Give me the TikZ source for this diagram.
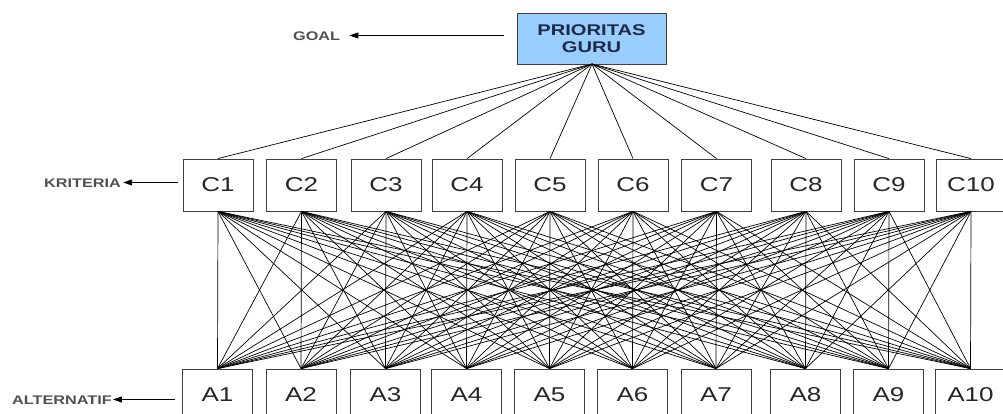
\documentclass[tikz,border=0pt]{standalone}
\usepackage{fontspec}
\usepackage{graphicx}
\setmainfont{Liberation Sans}
\newcommand{\wide}[1]{\scalebox{1.3}[1]{#1}}
\usetikzlibrary{arrows.meta}
\definecolor{goalblue}{HTML}{99CCFF}
\definecolor{goaltext}{HTML}{1F2A44}
\definecolor{lbl}{HTML}{505050}
\definecolor{boxline}{HTML}{404040}
\tikzset{
  box/.style={draw=boxline, line width=0.8pt, minimum width=70pt, minimum height=52pt, inner sep=0pt,
    font=\fontsize{20}{20}\selectfont, text=black!85},
  goalbox/.style={draw=boxline, line width=0.8pt, fill=goalblue, minimum width=149pt, minimum height=51pt,
    inner sep=0pt, align=center, font=\bfseries\fontsize{15.5}{17}\selectfont, text=goaltext},
  lbltext/.style={font=\bfseries\fontsize{12.5}{13}\selectfont, text=lbl, inner sep=0pt},
  link/.style={line width=0.7pt, black},
  pointer/.style={line width=0.8pt, black, -{Triangle[length=9pt,width=6pt]}}
}
\begin{document}
\begin{tikzpicture}[x=1pt,y=-1pt]
\useasboundingbox (0,0) rectangle (1003,414);
\node[goalbox] (g) at (591.5,38.5) {\wide{PRIORITAS}\\\wide{GURU}};
\coordinate (gb) at (592,64);
\foreach \i/\x in {1/218,2/301.5,3/386,4/467,5/550,6/633,7/716.5,8/806,9/889,10/971}{
  \node[box] (c\i) at (\x,185) {\wide{C\i}};
  \node[box] (a\i) at (\x-0.5,395) {\wide{A\i}};
}
\foreach \i in {1,...,10}{
  \draw[link] (gb) -- (c\i.north);
  \foreach \j in {1,...,10}{
    \draw[link] (c\i.south) -- (a\j.north);
  }
}
\node[lbltext, anchor=west] (goal) at (293,36) {\wide{GOAL}};
\node[lbltext, anchor=west] (krit) at (44,183) {\wide{KRITERIA}};
\node[lbltext, anchor=west] (alt) at (12,400) {\wide{ALTERNATIF}};
\coordinate (gs) at (504,35.5);
\coordinate (ks) at (178,182.5);
\coordinate (as) at (175,399.5);
\draw[pointer] (gs) -- ([xshift=9pt]goal.east |- gs);
\draw[pointer] (ks) -- ([xshift=2pt]krit.east |- ks);
\draw[pointer] (as) -- ([xshift=1pt]alt.east |- as);
\end{tikzpicture}
\end{document}
